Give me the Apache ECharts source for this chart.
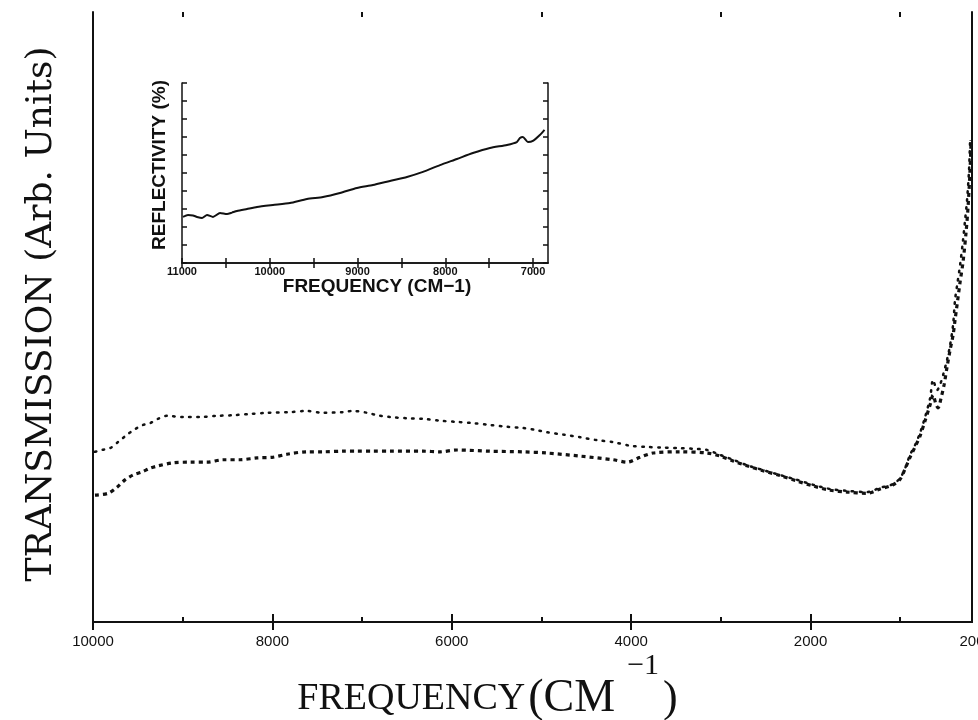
<!DOCTYPE html>
<html><head><meta charset="utf-8">
<script src="https://cdn.jsdelivr.net/npm/echarts@6/dist/echarts.min.js"></script>
<style>html,body{margin:0;padding:0;background:#fff}#c{width:978px;height:720px}</style>
</head><body><div id="c"></div><script>
// ---- main panel: transmission (arb. units) vs frequency (cm^-1)
const upperFreq = [9978,9900,9810,9721,9621,9532,9443,9364,9275,9175,8997,8808,8617,8439,8249,8060,7804,7614,7436,7213,7101,6945,6833,6688,6499,6320,6131,5941,5763,5573,5384,5206,5038,4938,4748,4570,4380,4202,4013,3823,3645,3455,3310,3154,3009,2864,2708,2530,2340,2150,1972,1782,1593,1370,1225,1080,1002,946,891,835,779,723,667,634,589,556,522,478,444,411,389,366,333,300,277,255,233,221];
const upperTrans = [27.9,28.2,28.5,29.5,30.7,31.6,32.3,32.6,33.3,33.8,33.6,33.6,33.8,33.9,34.1,34.3,34.4,34.6,34.3,34.4,34.6,34.3,33.9,33.6,33.4,33.3,33.0,32.8,32.6,32.3,32.0,31.8,31.4,31.1,30.7,30.3,29.8,29.5,28.9,28.7,28.6,28.5,28.4,28.2,27.4,26.6,25.7,24.9,24.1,23.3,22.5,21.8,21.5,21.3,22.0,22.6,23.6,25.2,27.4,29.0,31.0,33.6,36.7,39.7,38.0,38.9,40.5,43.0,45.4,48.7,52.8,55.2,58.5,62.6,65.9,69.2,74.1,79.0];
const lowerFreq = [9978,9833,9732,9643,9554,9454,9364,9275,9108,8918,8729,8550,8361,8171,8004,7837,7614,7436,7213,7056,6878,6688,6320,6131,5941,5573,5206,4938,4570,4202,4046,3901,3756,3455,3154,3009,2864,2708,2530,2340,2150,1972,1782,1593,1370,1225,1080,1002,946,891,835,779,723,667,634,600,578,545,511,478,444,411,389,333,300,266,244,221,210];
const lowerTrans = [20.8,21.1,22.1,23.3,24.1,24.6,25.2,25.6,26.1,26.2,26.2,26.6,26.6,26.9,27.0,27.5,27.9,27.9,28.0,28.0,28.0,28.0,28.0,27.9,28.2,28.0,27.9,27.7,27.2,26.6,26.2,27.0,27.7,27.9,27.7,27.2,26.4,25.6,24.8,24.0,23.1,22.3,21.6,21.3,21.1,21.8,22.5,23.4,25.1,27.0,28.7,30.5,33.0,35.6,37.2,35.6,35.1,36.7,38.9,41.8,44.6,47.0,49.5,55.7,59.0,63.9,68.0,74.3,79.0];
const mainMajorTicks = [10000,8000,6000,4000,2000];
const mainMinorTicks = [9000,7000,5000,3000,1000];
const mainTickLabels = [10000,8000,6000,4000,2000,200];

// ---- inset: reflectivity vs frequency
const insetFreq = [10989,10932,10875,10829,10772,10715,10647,10567,10487,10431,10374,10260,10146,9964,9770,9576,9394,9200,9007,8825,8631,8437,8255,8061,7868,7686,7492,7298,7185,7150,7116,7059,7002,6923,6870];
const insetRefl = [2.56,2.67,2.64,2.56,2.5,2.67,2.56,2.78,2.72,2.8,2.89,3.0,3.11,3.22,3.33,3.56,3.67,3.89,4.17,4.33,4.56,4.78,5.06,5.44,5.78,6.11,6.39,6.56,6.72,6.94,7.0,6.72,6.78,7.11,7.4];
const insetTicks = [11000,10500,10000,9500,9000,8500,8000,7500,7000];
const insetTickLabels = [11000,10000,9000,8000,7000];

const pairs = (xs, ys) => xs.map((x, i) => [x, ys[i]]);
const plain = v => String(v);
const K = '#111';
const mainRange = {min: 200, max: 10000};
const mainGrid = {left: 93, right: 6, top: 12, bottom: 98, outerBoundsMode: 'none', containLabel: false};
const insetGrid = {left: 182, top: 83, width: 366, height: 180, outerBoundsMode: 'none', containLabel: false};

const chart = echarts.init(document.getElementById('c'), null, {renderer: 'canvas'});
chart.setOption({
  animation: false,
  backgroundColor: '#fff',
  grid: [
    Object.assign({}, mainGrid),
    Object.assign({}, insetGrid),
    Object.assign({}, mainGrid)
  ],
  xAxis: [
    { gridIndex: 0, type: 'value', inverse: true, min: mainRange.min, max: mainRange.max, position: 'bottom',
      axisLine: {show: true, lineStyle: {color: K, width: 2}},
      axisTick: {show: true, inside: true, length: 8, customValues: mainMajorTicks, lineStyle: {color: K, width: 2}},
      axisLabel: {show: true, customValues: mainTickLabels, formatter: plain, color: K, fontFamily: 'Liberation Sans', fontSize: 15, margin: 12},
      splitLine: {show: false},
      name: '{a|FREQUENCY}{b|(CM}{c|−1}{d|)}', nameLocation: 'middle', nameGap: 20, nameMoveOverlap: false,
      nameTextStyle: { color: K, padding: [0, 90, 0, 0], rich: {
        a: {fontFamily: 'Liberation Serif', fontSize: 38, color: K, lineHeight: 114},
        b: {fontFamily: 'Liberation Serif', fontSize: 46, color: K, lineHeight: 114, padding: [0, 0, 0, 3]},
        c: {fontFamily: 'Liberation Serif', fontSize: 30, color: K, lineHeight: 30, verticalAlign: 'top', padding: [9, 4, 0, 12]},
        d: {fontFamily: 'Liberation Serif', fontSize: 44, color: K, lineHeight: 114}
      }}
    },
    { gridIndex: 0, type: 'value', inverse: true, min: mainRange.min, max: mainRange.max, position: 'top',
      axisLine: {show: true, lineStyle: {color: K, width: 2}},
      axisTick: {show: true, inside: true, length: 8, customValues: mainMajorTicks, lineStyle: {color: K, width: 2}},
      axisLabel: {show: false}, splitLine: {show: false}
    },
    { gridIndex: 1, type: 'value', inverse: true, min: 6830, max: 11000, position: 'bottom',
      axisLine: {show: true, lineStyle: {color: K, width: 1.5}},
      axisTick: {show: true, inside: true, length: 5, customValues: insetTicks, lineStyle: {color: K, width: 1.5}},
      axisLabel: {show: true, customValues: insetTickLabels, formatter: plain, color: K, fontFamily: 'Liberation Sans', fontWeight: 'bold', fontSize: 11, margin: 3},
      splitLine: {show: false},
      name: 'FREQUENCY (CM−1)', nameLocation: 'middle', nameGap: 14, nameMoveOverlap: false,
      nameTextStyle: {color: K, fontFamily: 'Liberation Sans', fontWeight: 'bold', fontSize: 19, verticalAlign: 'top', padding: [0, 0, 0, 24]}
    },
    { gridIndex: 1, type: 'value', inverse: true, min: 6830, max: 11000, position: 'top',
      axisLine: {show: true, lineStyle: {color: K, width: 1.5}},
      axisTick: {show: true, inside: true, length: 5, customValues: insetTicks, lineStyle: {color: K, width: 1.5}},
      axisLabel: {show: false}, splitLine: {show: false}
    },
    { gridIndex: 2, type: 'value', inverse: true, min: mainRange.min, max: mainRange.max, position: 'bottom',
      axisLine: {show: false},
      axisTick: {show: true, inside: true, length: 5, customValues: mainMinorTicks, lineStyle: {color: K, width: 2}},
      axisLabel: {show: false}, splitLine: {show: false}
    },
    { gridIndex: 2, type: 'value', inverse: true, min: mainRange.min, max: mainRange.max, position: 'top',
      axisLine: {show: false},
      axisTick: {show: true, inside: true, length: 5, customValues: mainMinorTicks, lineStyle: {color: K, width: 2}},
      axisLabel: {show: false}, splitLine: {show: false}
    }
  ],
  yAxis: [
    { gridIndex: 0, type: 'value', min: 0, max: 100, position: 'left',
      axisLine: {show: true, lineStyle: {color: K, width: 2}},
      axisTick: {show: false}, axisLabel: {show: false}, splitLine: {show: false},
      name: 'TRANSMISSION (Arb. Units)', nameLocation: 'middle', nameGap: 33, nameRotate: 90,
      nameTextStyle: {color: K, fontFamily: 'DejaVu Serif', fontSize: 36, padding: [0, 0, 0, 6]}
    },
    { gridIndex: 0, type: 'value', min: 0, max: 100, position: 'right',
      axisLine: {show: true, lineStyle: {color: K, width: 2}},
      axisTick: {show: false}, axisLabel: {show: false}, splitLine: {show: false}
    },
    { gridIndex: 1, type: 'value', min: 0, max: 10, interval: 1, position: 'left',
      axisLine: {show: true, lineStyle: {color: K, width: 1.5}},
      axisTick: {show: true, inside: true, length: 5, lineStyle: {color: K, width: 1.5}},
      axisLabel: {show: false}, splitLine: {show: false},
      name: 'REFLECTIVITY (%)', nameLocation: 'middle', nameGap: 13, nameRotate: 90,
      nameTextStyle: {color: K, fontFamily: 'Liberation Sans', fontWeight: 'bold', fontSize: 19, padding: [0, 0, 0, 16]}
    },
    { gridIndex: 1, type: 'value', min: 0, max: 10, interval: 1, position: 'right',
      axisLine: {show: true, lineStyle: {color: K, width: 1.5}},
      axisTick: {show: true, inside: true, length: 5, lineStyle: {color: K, width: 1.5}},
      axisLabel: {show: false}, splitLine: {show: false}
    },
    { gridIndex: 2, type: 'value', min: 0, max: 100, show: false }
  ],
  series: [
    { name: 'upper', type: 'line', xAxisIndex: 0, yAxisIndex: 0, data: pairs(upperFreq, upperTrans),
      showSymbol: false, smooth: 0.3, lineStyle: {color: K, width: 2.5, type: [1.5, 6.5], cap: 'round'} },
    { name: 'lower', type: 'line', xAxisIndex: 0, yAxisIndex: 0, data: pairs(lowerFreq, lowerTrans),
      showSymbol: false, smooth: 0.3, lineStyle: {color: K, width: 3.2, type: [4, 4]} },
    { name: 'inset', type: 'line', xAxisIndex: 2, yAxisIndex: 2, data: pairs(insetFreq, insetRefl),
      showSymbol: false, smooth: 0.2, lineStyle: {color: K, width: 2} }
  ]
});
</script></body></html>
